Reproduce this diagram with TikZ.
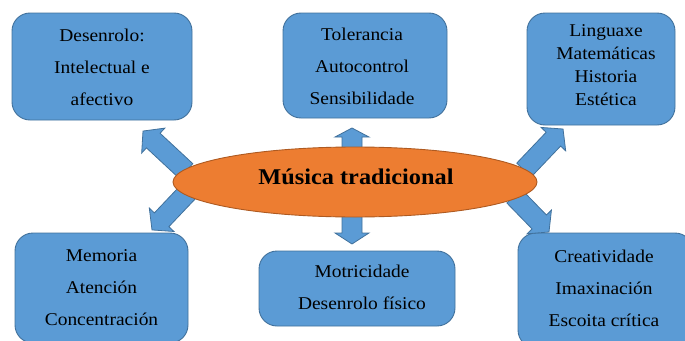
\documentclass[tikz,border=0pt]{standalone}
\usepackage{fontspec}
\setmainfont{Liberation Serif}[FakeStretch=1.08]
\definecolor{boxblue}{HTML}{5B9BD5}
\definecolor{boxedge}{HTML}{41719C}
\definecolor{ellfill}{HTML}{ED7D31}
\definecolor{elledge}{HTML}{AE5A21}
\newcommand{\barrow}[5]{%
  \begin{scope}[shift={(#1,#2)},rotate=#3]
    \draw[arrowbody] (0,-10) -- (#4-#5,-10) -- (#4-#5,-17) -- (#4,0) -- (#4-#5,17) -- (#4-#5,10) -- (0,10) -- cycle;
  \end{scope}}
\begin{document}
\begin{tikzpicture}[x=1pt,y=-1pt,
  box/.style={draw=boxedge,fill=boxblue,line width=0.9pt,rounded corners=18pt,inner sep=0pt},
  boxtext/.style={align=center,font=\fontsize{18}{32}\selectfont,text=black,inner sep=0pt},
  arrowbody/.style={draw=boxedge,fill=boxblue,line width=0.8pt,line join=miter},
  ell/.style={ellipse,draw=elledge,fill=ellfill,line width=0.9pt,inner sep=0pt}]
\useasboundingbox (0,0) rectangle (685,340);
% boxes
\node[box,minimum width=180pt,minimum height=107pt] (b1) at (102,66.5) {};
\node[box,minimum width=164pt,minimum height=105pt] (b2) at (365,65.5) {};
\node[box,minimum width=148pt,minimum height=112pt] (b3) at (601,69) {};
\node[box,minimum width=173pt,minimum height=110pt] (b4) at (101.5,288) {};
\node[box,minimum width=196pt,minimum height=75pt] (b5) at (357,288.5) {};
\node[box,minimum width=175pt,minimum height=115pt] (b6) at (605.5,290.5) {};
% texts
\node[boxtext] (t1) at (102,67.5) {Desenrolo:\\Intelectual e\\afectivo};
\node[boxtext] (t2) at (362,66.5) {Tolerancia\\Autocontrol\\Sensibilidade};
\node[boxtext,font=\fontsize{18}{23}\selectfont] (t3) at (606,65) {Linguaxe\\Matemáticas\\Historia\\Estética};
\node[boxtext] (t4) at (101.5,288) {Memoria\\Atención\\Concentración};
\node[boxtext] (t5) at (362,287.5) {Motricidade\\Desenrolo físico};
\node[boxtext] (t6) at (604,288) {Creatividade\\Imaxinación\\Escoita crítica};
% block arrows
\barrow{186}{171}{137.1}{58.7}{14}
\barrow{352}{150}{90}{22}{9}
\barrow{524}{170}{46.4}{56.6}{14}
\barrow{188}{192}{226.5}{52.3}{14}
\barrow{352}{212}{-90}{32}{11}
\barrow{514}{196}{-45.8}{50.2}{14}
% central ellipse
\path[draw=elledge,fill=ellfill,line width=0.9pt] (355,182) ellipse [x radius=182pt,y radius=35pt];
\node[font=\fontsize{22.5}{27}\selectfont\bfseries,inner sep=0pt] (c) at (356,177) {Música tradicional};
\end{tikzpicture}
\end{document}
